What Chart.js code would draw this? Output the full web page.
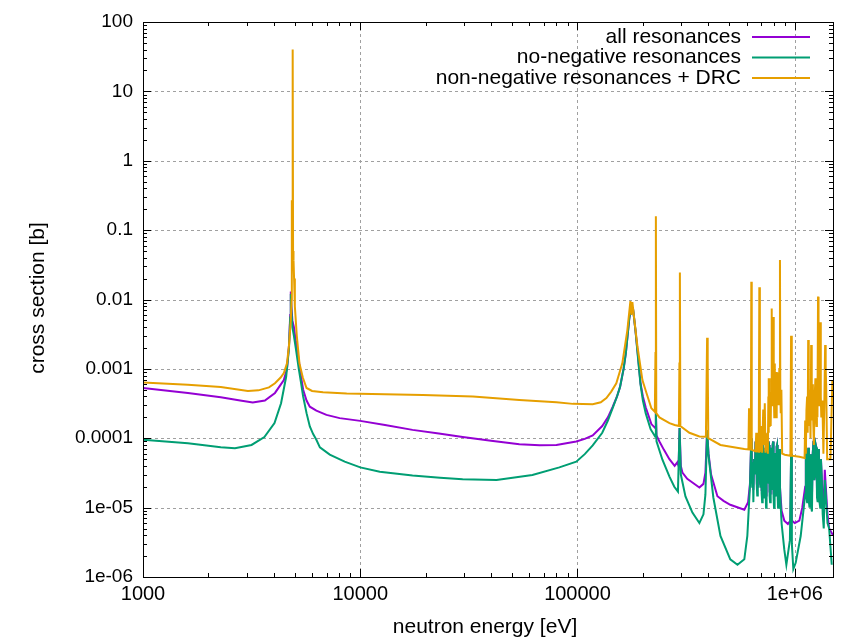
<!DOCTYPE html>
<html>
<head>
<meta charset="utf-8">
<script src="https://cdn.jsdelivr.net/npm/chart.js@4.4.1/dist/chart.umd.min.js"></script>
<style>
  html, body { margin: 0; padding: 0; background: #fff; }
  canvas { display: block; }
</style>
</head>
<body>
<canvas id="xsChart" width="847" height="642"></canvas>
<script>
// --- data (energy in eV, cross section in b) ---
const allEnergy = [1000, 1330, 1610, 2280, 2800, 3200, 3640, 4050, 4450, 4600, 4700, 4760, 4790, 4820, 4870, 4950, 5050, 5200, 5330, 5460, 5660, 5860, 6280, 6990, 8040, 10000, 13000, 17400, 23000, 29600, 40000, 54000, 67000, 80000, 98700, 108000, 117500, 130000, 138000, 145000, 152000, 157000, 163000, 167000, 173000, 176500, 180000, 185000, 190000, 195000, 200000, 206000, 218800, 228000, 229500, 231000, 238300, 250000, 264900, 280000, 288000, 292000, 295000, 299000, 304000, 320000, 338000, 364000, 380000, 388000, 395000, 401000, 412000, 440600, 470000, 505000, 586000, 610000, 622000,
    631000, 634000, 637000, 641000, 645000, 650000, 655000, 660000, 665000, 669000, 672000, 676000, 680000, 684000, 687000, 691000, 694000, 697000, 700000, 704000, 708000, 712000, 715000, 719000, 722000, 726000, 730000, 734000, 738000, 742000, 746000, 750000, 753000, 758000, 762000, 766000, 770000, 775000, 779000, 783000, 787000, 791000, 795000, 799000, 803000, 808000, 812000, 816000, 820000, 825000, 829000, 834000, 838000, 844000, 849000, 855000, 860000,
    870000, 895000, 930000, 955000, 962000, 968000, 1000000, 1050000, 1083000, 1117000,
    1125000, 1132000, 1140000, 1147000, 1155000, 1162000, 1170000, 1177000, 1185000, 1192000, 1200000, 1210000, 1220000, 1230000, 1240000, 1250000, 1258000, 1266000, 1275000, 1284000, 1292000, 1300000, 1310000, 1320000, 1330000, 1345000, 1360000, 1375000, 1390000, 1415000, 1440000, 1500000];
const allXs = [5.3e-4, 4.8e-4, 4.5e-4, 3.9e-4, 3.5e-4, 3.27e-4, 3.5e-4, 4.5e-4, 6.9e-4, 1.0e-3, 2.2e-3, 6.0e-3, 0.013, 0.008, 0.005, 0.004, 0.0025, 1.4e-3, 8.0e-4, 5.0e-4, 3.5e-4, 2.85e-4, 2.5e-4, 2.17e-4, 1.95e-4, 1.78e-4, 1.55e-4, 1.32e-4, 1.17e-4, 1.04e-4, 9.2e-5, 8.2e-5, 7.9e-5, 8.0e-5, 9.0e-5, 9.8e-5, 1.1e-4, 1.5e-4, 2.0e-4, 2.8e-4, 4.0e-4, 5.5e-4, 1.0e-3, 1.7e-3, 5.2e-3, 8.0e-3, 7.5e-3, 3.5e-3, 1.5e-3, 6.2e-4, 4.0e-4, 2.8e-4, 1.6e-4, 1.4e-4, 2.4e-4, 1.1e-4, 9.0e-5, 6.8e-5, 5.0e-5, 4.0e-5, 4.5e-5, 4.0e-5, 1.4e-4, 4.0e-5, 3.2e-5, 2.6e-5, 2.3e-5, 1.95e-5, 2.2e-5, 3.2e-5, 1.3e-4, 6.0e-5, 3.0e-5, 1.46e-5, 1.25e-5, 1.1e-5, 9.3e-6, 1.2e-5, 2.2e-5,
    1.0e-4, 3.0e-5, 2.5e-5, 4.5e-5, 1.8e-5, 5.0e-5, 3.2e-5, 9.0e-5, 7.3e-5, 2.2e-5, 2.0e-5, 6.0e-5, 4.0e-5, 1.0e-4, 9.0e-5, 2.5e-5, 2.2e-5, 7.0e-5, 6.0e-5, 1.8e-5, 1.8e-5, 8.0e-5, 7.3e-5, 2.0e-5, 1.8e-5, 6.5e-5, 5.9e-5, 1.8e-5, 1.5e-5, 6.0e-5, 7.3e-5, 2.4e-5, 2.8e-5, 9.0e-5, 8.0e-5, 1.7e-5, 1.6e-5, 6.5e-5, 7.3e-5, 2.0e-5, 2.2e-5, 8.0e-5, 9.0e-5, 1.6e-5, 1.5e-5, 6.0e-5, 5.9e-5, 2.0e-5, 1.8e-5, 7.5e-5, 8.0e-5, 1.6e-5, 1.4e-5, 6.0e-5, 7.0e-5, 2.0e-5, 1.5e-5,
    9.0e-6, 6.5e-6, 5.8e-6, 6.5e-6, 6.0e-5, 6.5e-6, 6.0e-6, 6.5e-6, 1.0e-5, 2.0e-5,
    9.2e-5, 2.0e-5, 1.5e-5, 5.0e-5, 7.3e-5, 1.6e-5, 1.5e-5, 4.0e-5, 5.9e-5, 1.5e-5, 1.4e-5, 6.0e-5, 9.2e-5, 2.5e-5, 3.0e-5, 8.0e-5, 7.3e-5, 1.8e-5, 1.6e-5, 7.0e-5, 5.9e-5, 1.6e-5, 1.5e-5, 5.0e-5, 3.0e-5, 1.2e-5, 1.0e-5, 3.5e-5, 2.0e-5, 8.0e-6, 5.0e-6, 4.0e-6];

const posEnergy = [1000, 1610, 2280, 2650, 3160, 3620, 4030, 4320, 4560, 4700, 4760, 4790, 4820, 4870, 4950, 5050, 5213, 5330, 5460, 5660, 5860, 6070, 6280, 6520, 7240, 8480, 10000, 12300, 17400, 23300, 29600, 42400, 62000, 82500, 98700, 108000, 117500, 130000, 138000, 145000, 152000, 157000, 163000, 167000, 173000, 176500, 180000, 185000, 190000, 195000, 200000, 206000, 217000, 224000, 228000, 229500, 231000, 246000, 265000, 279000, 290000, 295000, 299000, 314000, 338000, 364000, 380000, 388000, 395000, 401000, 422000, 455000, 505000, 545000, 586000, 605000, 622000,
    631000, 634000, 637000, 641000, 645000, 650000, 655000, 660000, 665000, 669000, 672000, 676000, 680000, 684000, 687000, 691000, 694000, 697000, 700000, 704000, 708000, 712000, 715000, 719000, 722000, 726000, 730000, 734000, 738000, 742000, 746000, 750000, 753000, 758000, 762000, 766000, 770000, 775000, 779000, 783000, 787000, 791000, 795000, 799000, 803000, 808000, 812000, 816000, 820000, 825000, 829000, 834000, 838000, 844000, 849000, 855000, 860000,
    870000, 895000, 915000, 950000, 962000, 970000, 985000, 1010000, 1065000, 1117000,
    1125000, 1132000, 1140000, 1147000, 1155000, 1162000, 1170000, 1177000, 1185000, 1192000, 1200000, 1210000, 1220000, 1230000, 1240000, 1250000, 1258000, 1266000, 1275000, 1284000, 1292000, 1300000, 1310000, 1320000, 1330000, 1345000, 1360000, 1375000, 1390000, 1415000, 1440000, 1480000];
const posXs = [9.5e-5, 8.5e-5, 7.4e-5, 7.2e-5, 8.0e-5, 1.04e-4, 1.65e-4, 3.2e-4, 7.7e-4, 2.0e-3, 5.5e-3, 0.012, 0.007, 0.004, 0.003, 0.002, 1.0e-3, 6.5e-4, 4.0e-4, 2.3e-4, 1.48e-4, 1.15e-4, 9.5e-5, 7.4e-5, 5.8e-5, 4.6e-5, 3.8e-5, 3.3e-5, 2.9e-5, 2.7e-5, 2.57e-5, 2.5e-5, 2.95e-5, 3.8e-5, 4.6e-5, 5.9e-5, 7.9e-5, 1.2e-4, 1.8e-4, 2.7e-4, 4.0e-4, 5.5e-4, 1.0e-3, 1.7e-3, 5.2e-3, 8.0e-3, 7.5e-3, 3.5e-3, 1.4e-3, 6.0e-4, 3.5e-4, 2.3e-4, 1.35e-4, 1.15e-4, 1.05e-4, 2.4e-4, 9.0e-5, 4.9e-5, 2.8e-5, 2.0e-5, 1.7e-5, 1.4e-4, 3.0e-5, 1.45e-5, 8.5e-6, 6.0e-6, 8.0e-6, 1.55e-5, 1.3e-4, 5.6e-5, 1.4e-5, 3.9e-6, 1.8e-6, 1.5e-6, 1.8e-6, 3.9e-6, 2.0e-5,
    1.0e-4, 3.0e-5, 2.0e-5, 4.5e-5, 1.2e-5, 5.0e-5, 3.0e-5, 9.0e-5, 7.3e-5, 2.0e-5, 1.5e-5, 6.0e-5, 4.0e-5, 1.0e-4, 9.0e-5, 2.5e-5, 2.0e-5, 7.0e-5, 6.0e-5, 1.6e-5, 1.2e-5, 8.0e-5, 7.3e-5, 2.0e-5, 1.4e-5, 6.5e-5, 5.9e-5, 1.8e-5, 1.0e-5, 6.0e-5, 7.3e-5, 2.2e-5, 2.5e-5, 9.0e-5, 8.0e-5, 1.5e-5, 1.2e-5, 6.5e-5, 7.3e-5, 1.8e-5, 2.0e-5, 8.0e-5, 9.0e-5, 1.4e-5, 1.0e-5, 6.0e-5, 5.9e-5, 2.0e-5, 1.5e-5, 7.5e-5, 8.0e-5, 1.5e-5, 1.0e-5, 6.0e-5, 7.0e-5, 2.0e-5, 1.2e-5,
    5.9e-6, 2.5e-6, 1.5e-6, 3.4e-6, 6.0e-5, 3.0e-6, 1.3e-6, 1.6e-6, 3.9e-6, 1.55e-5,
    9.2e-5, 1.5e-5, 1.2e-5, 5.0e-5, 7.3e-5, 1.2e-5, 1.0e-5, 4.0e-5, 5.9e-5, 1.0e-5, 8.8e-6, 6.0e-5, 9.2e-5, 2.5e-5, 3.0e-5, 8.0e-5, 7.3e-5, 1.4e-5, 1.2e-5, 7.0e-5, 5.9e-5, 1.2e-5, 1.0e-5, 5.0e-5, 3.0e-5, 8.0e-6, 5.0e-6, 2.5e-5, 1.5e-5, 6.0e-6, 5.0e-6, 1.5e-6];

const drcEnergy = [1000, 1610, 2280, 3040, 3400, 3800, 4050, 4300, 4450, 4600, 4700, 4790, 4830, 4842, 4855, 4880, 4893, 4906, 4930, 4960, 5000, 5104, 5250, 5440, 5660, 6000, 6740, 8660, 19400, 33000, 54000, 80000, 95300, 117500, 128000, 135800, 143000, 150900, 160800, 169600, 175200, 177000, 178900, 182800, 188800, 199000, 207700, 218800, 227000, 228500, 229500, 230500, 238300, 265000, 280000, 293000, 294500, 296000, 297500, 327400, 364000, 390000, 395000, 397500, 400000, 455000, 586000,
    612000, 616000, 620000, 628000, 631000, 634000, 660000, 665000, 670000, 683000, 687000, 691000, 700000, 708000, 716000, 721000, 728000, 733000, 748000, 752000, 756000, 758000, 760000, 762000, 764000, 767000, 769000, 772000, 775000, 778000, 782000, 785000, 788000, 792000, 796000, 799000, 802000, 805000, 808000, 811000, 815000, 818000, 822000, 826000, 830000, 834000, 838000, 843000, 849000, 855000, 858000, 862000, 868000, 875000,
    900000, 955000, 962000, 969000, 1050000, 1110000, 1117000, 1125000, 1132000, 1140000, 1147000, 1153000, 1158000, 1162000, 1168000, 1175000, 1182000, 1190000, 1195000, 1200000, 1206000, 1212000, 1218000, 1225000, 1235000, 1245000, 1252000, 1258000, 1265000, 1272000, 1280000, 1287000, 1295000, 1302000, 1310000, 1318000, 1325000, 1340000, 1355000, 1368000, 1380000, 1388000, 1395000, 1410000, 1460000, 1490000];
const drcXs = [6.35e-4, 5.9e-4, 5.5e-4, 4.8e-4, 4.9e-4, 5.4e-4, 6.2e-4, 7.5e-4, 8.7e-4, 1.2e-3, 2.2e-3, 5.0e-3, 0.01, 0.27, 0.03, 0.05, 40, 0.05, 0.037, 0.02, 0.008, 3.0e-3, 1.2e-3, 7.5e-4, 5.3e-4, 4.8e-4, 4.6e-4, 4.4e-4, 4.2e-4, 4.0e-4, 3.57e-4, 3.3e-4, 3.13e-4, 3.1e-4, 3.3e-4, 3.8e-4, 4.7e-4, 6.2e-4, 1.2e-3, 3.6e-3, 9.5e-3, 6.0e-3, 9.2e-3, 5.0e-3, 2.1e-3, 6.9e-4, 4.5e-4, 2.7e-4, 2.4e-4, 1.7e-3, 0.158, 2.3e-4, 2.0e-4, 1.65e-4, 1.55e-4, 1.5e-4, 1.2e-3, 0.0245, 1.5e-4, 1.2e-4, 1.06e-4, 1.05e-4, 0.0028, 1.3e-3, 1.0e-4, 8.0e-5, 7.0e-5,
    6.9e-5, 2.7e-4, 6.9e-5, 6.9e-5, 0.018, 6.8e-5, 6.5e-5, 1.2e-4, 6.5e-5, 6.4e-5, 0.015, 6.3e-5, 1.5e-4, 6.2e-5, 2.6e-4, 8.0e-5, 3.2e-4, 6.2e-5, 1.2e-4, 6.0e-5, 4.0e-4, 1.2e-4, 7.3e-4, 1.5e-4, 5.0e-4, 7.3e-4, 1.8e-4, 3.5e-4, 1.5e-4, 4.5e-4, 0.0074, 6.0e-4, 3.0e-4, 1.0e-3, 0.0056, 8.0e-4, 5.0e-4, 2.0e-4, 1.2e-3, 2.5e-4, 6.0e-4, 3.0e-4, 2.0e-4, 9.0e-4, 4.0e-4, 8.9e-4, 5.0e-4, 3.0e-4, 1.0e-3, 0.037, 5.0e-4, 2.3e-4, 5.0e-4, 6.0e-5,
    5.8e-5, 5.6e-5, 0.003, 5.6e-5, 5.4e-5, 5.2e-5, 1.8e-4, 6.0e-5, 2.5e-4, 4.0e-4, 1.2e-4, 0.0026, 2.0e-4, 1.5e-4, 5.0e-4, 3.0e-4, 1.0e-4, 0.0022, 2.5e-4, 1.8e-4, 6.0e-4, 3.0e-4, 1.5e-4, 8.0e-5, 4.0e-4, 7.3e-4, 2.0e-4, 1.5e-4, 5.0e-4, 2.0e-4, 0.011, 6.0e-4, 3.0e-4, 1.0e-3, 0.0047, 4.0e-4, 2.0e-4, 3.5e-4, 6.0e-5, 3.0e-4, 0.0022, 1.0e-3, 6.0e-4, 5.0e-5, 5.0e-5, 6.8e-4];

const xMajor = [1000, 10000, 100000, 1000000];
const xLabels = ['1000', '10000', '100000', '1e+06'];
const yMajor = [1e-6, 1e-5, 1e-4, 1e-3, 0.01, 0.1, 1, 10, 100];
const yLabels = ['1e-06', '1e-05', '0.0001', '0.001', '0.01', '0.1', '1', '10', '100'];
const seriesNames = ['all resonances', 'no-negative resonances', 'non-negative resonances + DRC'];
const seriesColors = ['#9400d3', '#009e73', '#e69f00'];

const FONT = '"Liberation Sans", Arial, sans-serif';

// tick values: 1..9 times each decade inside the range
function logTicks(min, max) {
    const out = [];
    for (let d = Math.floor(Math.log10(min)); d <= Math.ceil(Math.log10(max)); d++) {
        for (let m = 1; m <= 9; m++) {
            const v = m * Math.pow(10, d);
            if (v >= min * 0.9999 && v <= max * 1.0001) out.push(v);
        }
    }
    return out;
}

const isMajor = (list, v) => list.some(m => Math.abs(m - v) / m < 1e-6);

const toPoints = (xs, ys) => xs.map((x, i) => ({ x: x, y: ys[i] }));

// grid, border and inward tics in gnuplot style
const frameLines = {
    id: 'frameLines',
    beforeDatasetsDraw(chart) {
        const { ctx, chartArea: a, scales } = chart;
        ctx.save();
        ctx.strokeStyle = '#a0a0a0';
        ctx.lineWidth = 1;
        ctx.setLineDash([3, 3]);
        xMajor.forEach(v => {
            const px = Math.round(scales.x.getPixelForValue(v)) + 0.5;
            if (px <= a.left + 1 || px >= a.right - 1) return;
            ctx.beginPath(); ctx.moveTo(px, a.top); ctx.lineTo(px, a.bottom); ctx.stroke();
        });
        yMajor.forEach(v => {
            const py = Math.round(scales.y.getPixelForValue(v)) + 0.5;
            if (py <= a.top + 1 || py >= a.bottom - 1) return;
            ctx.beginPath(); ctx.moveTo(a.left, py); ctx.lineTo(a.right, py); ctx.stroke();
        });
        ctx.restore();
    },
    afterDatasetsDraw(chart) {
        const { ctx, chartArea: a, scales } = chart;
        ctx.save();
        ctx.strokeStyle = '#000';
        ctx.lineWidth = 1;
        ctx.setLineDash([]);
        ctx.strokeRect(Math.round(a.left) + 0.5, Math.round(a.top) + 0.5,
            Math.round(a.right - a.left), Math.round(a.bottom - a.top));
        ctx.beginPath();
        scales.x.ticks.forEach(t => {
            const px = Math.round(scales.x.getPixelForValue(t.value)) + 0.5;
            const len = isMajor(xMajor, t.value) ? 8 : 4;
            ctx.moveTo(px, a.bottom); ctx.lineTo(px, a.bottom - len);
            ctx.moveTo(px, a.top); ctx.lineTo(px, a.top + len);
        });
        scales.y.ticks.forEach(t => {
            const py = Math.round(scales.y.getPixelForValue(t.value)) + 0.5;
            const len = isMajor(yMajor, t.value) ? 8 : 4;
            ctx.moveTo(a.left, py); ctx.lineTo(a.left + len, py);
            ctx.moveTo(a.right, py); ctx.lineTo(a.right - len, py);
        });
        ctx.stroke();
        ctx.restore();
    }
};

// axis titles and the key (text right-aligned, sample line after it)
const keyAndTitles = {
    id: 'keyAndTitles',
    afterDraw(chart) {
        const { ctx } = chart;
        ctx.save();
        ctx.fillStyle = '#000';
        ctx.font = '21px ' + FONT;
        ctx.textBaseline = 'middle';
        ctx.textAlign = 'center';
        ctx.fillText('neutron energy [eV]', 485, 627);
        ctx.save();
        ctx.translate(38, 298);
        ctx.rotate(-Math.PI / 2);
        ctx.fillText('cross section [b]', 0, 0);
        ctx.restore();

        ctx.textAlign = 'right';
        seriesNames.forEach((name, i) => {
            const y = 37 + i * 20.5;
            ctx.fillStyle = '#000';
            ctx.fillText(name, 741, y);
            ctx.strokeStyle = seriesColors[i];
            ctx.lineWidth = 2;
            ctx.beginPath(); ctx.moveTo(752, y); ctx.lineTo(810, y); ctx.stroke();
        });
        ctx.restore();
    }
};

const ctx = document.getElementById('xsChart').getContext('2d');

const xsChart = new Chart(ctx, {
    type: 'line',
    data: {
        datasets: [{
            label: seriesNames[0],
            data: toPoints(allEnergy, allXs),
            borderColor: seriesColors[0],
            order: 3
        }, {
            label: seriesNames[1],
            data: toPoints(posEnergy, posXs),
            borderColor: seriesColors[1],
            order: 2
        }, {
            label: seriesNames[2],
            data: toPoints(drcEnergy, drcXs),
            borderColor: seriesColors[2],
            order: 1
        }]
    },
    options: {
        responsive: false,
        devicePixelRatio: 1,
        animation: false,
        layout: { padding: { top: 22, right: 14, left: 0, bottom: 0 } },
        elements: {
            point: { radius: 0 },
            line: { borderWidth: 2, tension: 0, fill: false }
        },
        plugins: {
            legend: { display: false },
            tooltip: { enabled: false }
        },
        scales: {
            x: {
                type: 'logarithmic',
                min: 1000,
                max: 1.5e6,
                grid: { display: false, drawTicks: false },
                border: { display: false },
                afterBuildTicks: scale => {
                    scale.ticks = logTicks(1000, 1.5e6).map(v => ({ value: v }));
                },
                afterFit: scale => { scale.height = 65; },
                ticks: {
                    autoSkip: false,
                    maxRotation: 0,
                    padding: 5,
                    color: '#000',
                    font: { family: FONT, size: 20 },
                    callback: v => {
                        const i = xMajor.findIndex(m => Math.abs(m - v) / m < 1e-6);
                        return i >= 0 ? xLabels[i] : '';
                    }
                }
            },
            y: {
                type: 'logarithmic',
                min: 1e-6,
                max: 100,
                grid: { display: false, drawTicks: false },
                border: { display: false },
                afterBuildTicks: scale => {
                    scale.ticks = logTicks(1e-6, 100).map(v => ({ value: v }));
                },
                afterFit: scale => { scale.width = 143; },
                ticks: {
                    autoSkip: false,
                    padding: 10,
                    color: '#000',
                    font: { family: FONT, size: 19 },
                    callback: v => {
                        const i = yMajor.findIndex(m => Math.abs(m - v) / m < 1e-6);
                        return i >= 0 ? yLabels[i] : '';
                    }
                }
            }
        }
    },
    plugins: [frameLines, keyAndTitles]
});
</script>
</body>
</html>
